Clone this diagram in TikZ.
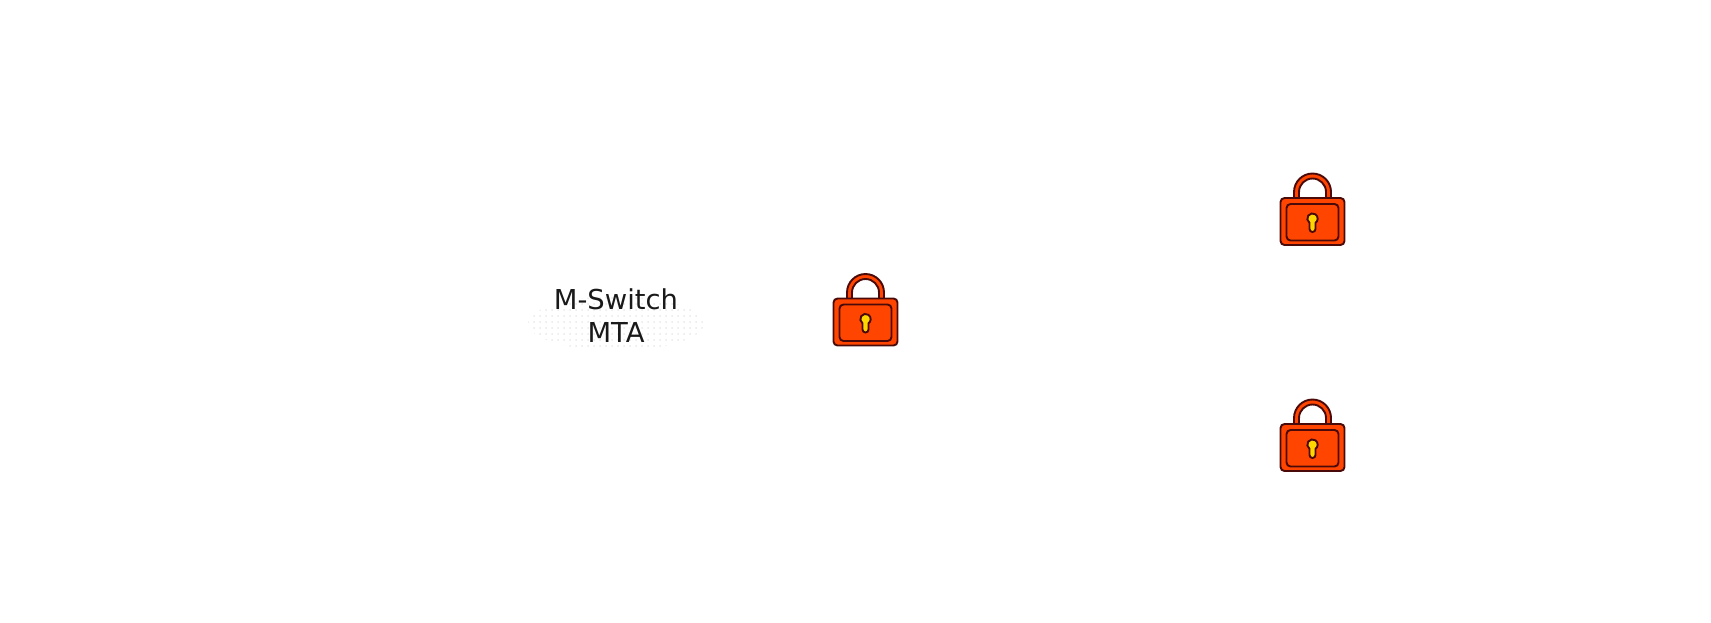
\documentclass[tikz,border=0pt]{standalone}
\usepackage{fontspec}
\usetikzlibrary{patterns}
\setmainfont{DejaVu Sans}
\definecolor{lockred}{HTML}{FF4500}
\definecolor{lockedge}{HTML}{4A0A0A}
\definecolor{lockkey}{HTML}{FFD700}
\definecolor{mtadots}{HTML}{E8E8E8}
\tikzset{
  mta/.style={font=\fontsize{13.7}{16.5}\selectfont,align=center,text=black!90},
  lockline/.style={lockedge,line width=0.95pt},
  lock/.pic={
    % shackle, outer edge then inner edge
    \draw[lockline,fill=lockred] (-18.5,1) -- (-18.5,-6) arc [start angle=180,end angle=360,radius=18.5] -- (18.5,1) -- (13.5,1) -- (13.5,-6) arc [start angle=360,end angle=180,radius=13.5] -- (-13.5,1) -- cycle;
    \draw[lockline,fill=lockred,rounded corners=2pt] (-32,0) rectangle (32,47);
    \draw[lockline,rounded corners=2pt] (-26,6) rectangle (26,42.5);
    \draw[lockline,fill=lockkey] (-3,31) -- (-3,24.85) arc [start angle=125,end angle=415,radius=5.2] -- (3,31) arc [start angle=0,end angle=180,radius=3] -- cycle;
  }
}
\begin{document}
\begin{tikzpicture}[x=0.5pt,y=-0.5pt]
\useasboundingbox (0,0) rectangle (1711,622);
\fill[pattern=dots,pattern color=mtadots] (616,323.5) ellipse [x radius=88,y radius=27];
\node[mta] (mswitch) at (616,316) {M-Switch\\MTA};
\pic (lockmid) at (865.5,298.5) {lock};
\pic (locktop) at (1312.5,198) {lock};
\pic (lockbot) at (1312.5,424) {lock};
\end{tikzpicture}
\end{document}
